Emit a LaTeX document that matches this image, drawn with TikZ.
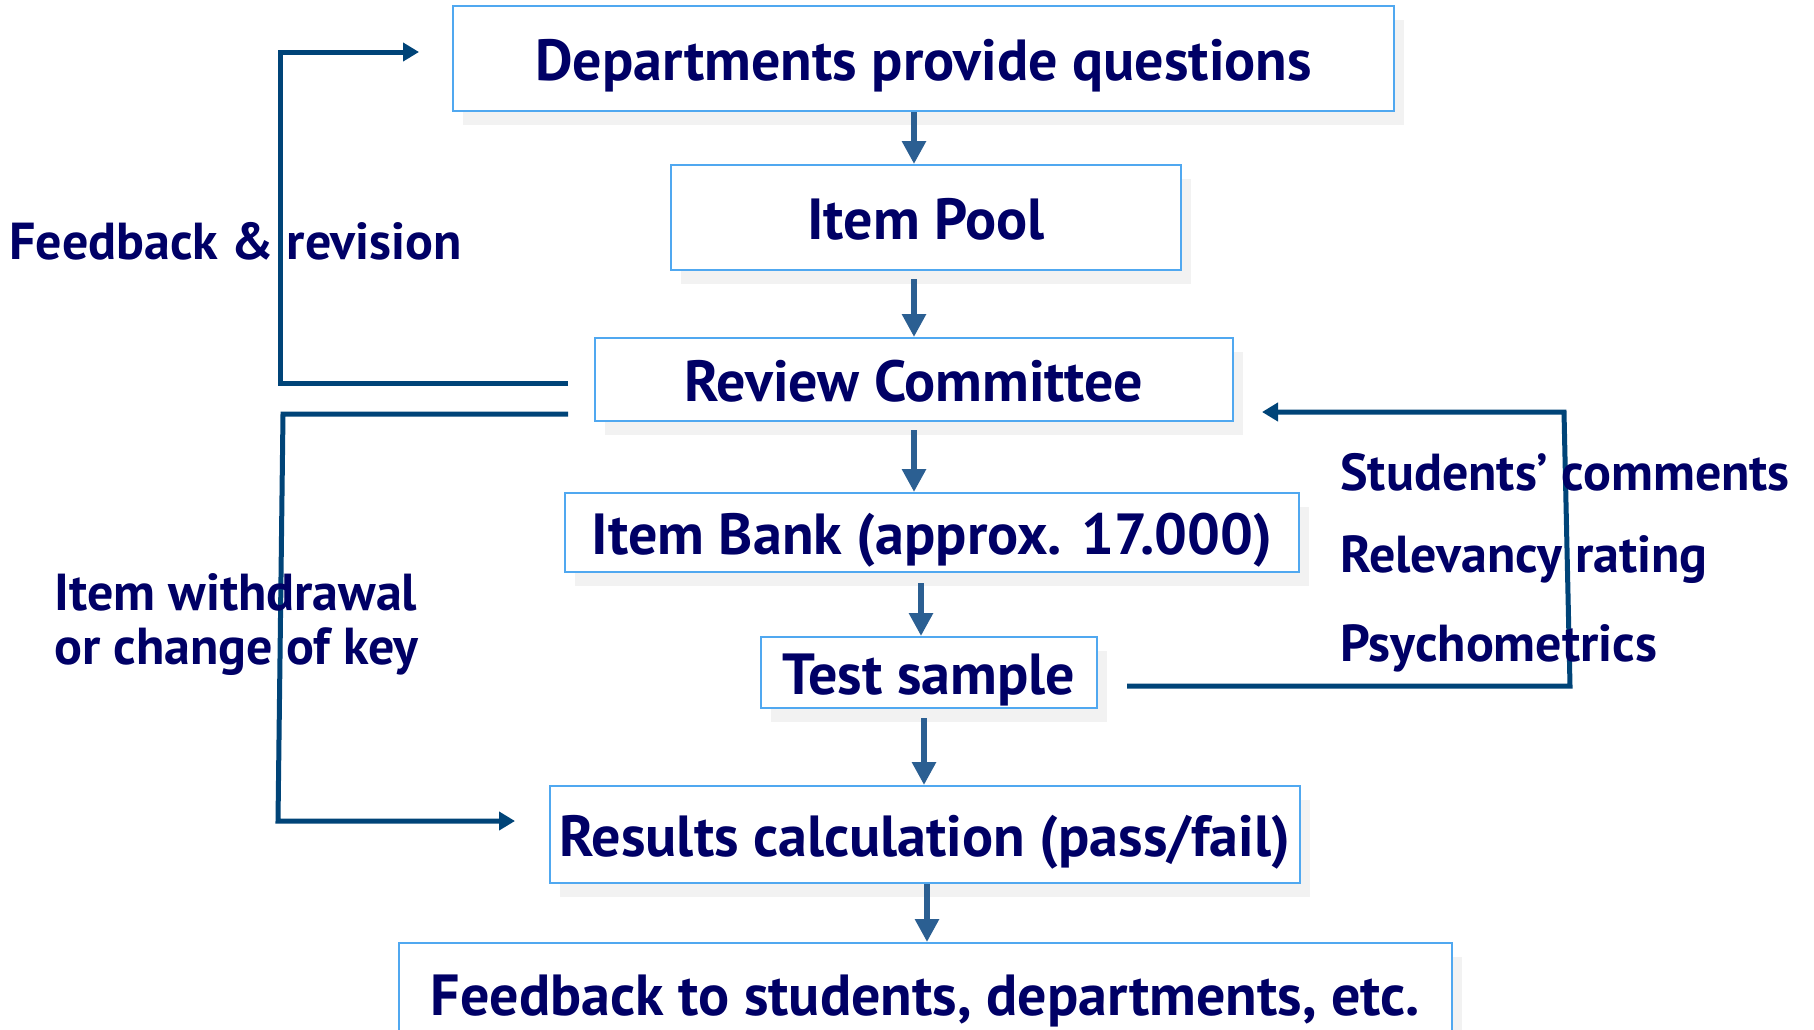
\documentclass[tikz,border=0pt]{standalone}
\usepackage{fontspec}
\setmainfont{PT Sans}
\usetikzlibrary{arrows.meta,calc,shadows}
\definecolor{txt}{RGB}{0,0,102}
\definecolor{bord}{RGB}{80,168,240}
\definecolor{arrc}{RGB}{43,95,146}
\definecolor{lpc}{RGB}{0,68,120}
\begin{document}
\begin{tikzpicture}[x=0.5pt,y=-0.5pt,
  box/.style={draw=bord, line width=1pt, fill=white, text=txt,
    font=\bfseries\fontsize{29}{33}\selectfont, inner sep=0pt,
    text height=23pt, text depth=1pt,
    drop shadow={shadow xshift=5pt, shadow yshift=-7pt, opacity=0.05, fill=black}},
  lbl/.style={text=txt, font=\bfseries\fontsize{26}{30}\selectfont, inner sep=0pt, anchor=west},
  flow/.style={draw=arrc, line width=3pt, -{Triangle[width=11.5pt,length=11.5pt]}},
  fbk/.style={draw=lpc, line width=2.5pt, -{Triangle[width=9pt,length=8pt]}}]
\useasboundingbox (0,0) rectangle (1814,1029);
\fill[white] (0,0) rectangle (1814,1029);

\node[box, minimum width=470.5pt, minimum height=52.5pt] (dep) at (923.5,58.5) {Departments provide questions};
\node[box, minimum width=255pt, minimum height=52.5pt] (pool) at (926,217.5) {Item Pool};
\node[box, minimum width=319pt, minimum height=41.5pt] (rev) at (914,379.5) {Review Committee};
\node[box, minimum width=367pt, minimum height=39.5pt] (bank) at (932,532.5) {Item Bank (approx. 17.000)};
\node[box, minimum width=168pt, minimum height=35.5pt] (test) at (929,672.5) {Test sample};
\node[box, minimum width=375pt, minimum height=48.5pt] (res) at (925,834.5) {Results calculation (pass/fail)};
\node[box, minimum width=526.5pt, minimum height=50pt] (fb) at (925.5,993) {Feedback to students, departments, etc.};

% vertical flow arrows
\draw[flow] ([xshift=-4.75pt]dep.south) -- ([xshift=-4.75pt]dep.south |- pool.north);
\draw[flow] ([xshift=-6pt,yshift=-4pt]pool.south) -- ([xshift=-6pt]pool.south |- rev.north);
\draw[flow] ([yshift=-4pt]rev.south) -- (rev.south |- bank.north);
\draw[flow] ([xshift=-5.5pt,yshift=-5pt]bank.south) -- ([xshift=-5.5pt]bank.south |- test.north);
\draw[flow] ([xshift=-2.5pt,yshift=-4.5pt]test.south) -- ([xshift=-2.5pt]test.south |- res.north);
\draw[flow] ([xshift=1pt]res.south) -- ([xshift=1pt]res.south |- fb.north);

% feedback & revision loop
\coordinate (a1) at ($(rev.west)+(-26,3.5)$);
\coordinate (a2) at ($(dep.west)+(-172,-6.5)$);
\coordinate (a3) at ($(dep.west)+(-33,-6.5)$);
\draw[fbk] (a1) -| (a2) -- (a3);
\node[lbl] (lfr) at (9,241) {Feedback \& revision};

% item withdrawal loop
\coordinate (b1) at ($(rev.west)+(-26,34.5)$);
\coordinate (b2) at (283,414);
\coordinate (b3) at (278,821);
\coordinate (b4) at ($(res.west)+(-34,-13.5)$);
\draw[fbk] (b1) -- (b2) -- (b3) -- (b4);
\node[lbl] (liw1) at (54,592) {Item withdrawal};
\node[lbl] (liw2) at (54,652) {or change of key};

% right loop
\coordinate (c1) at ($(test.east)+(29,13.5)$);
\coordinate (c2) at (1570,686);
\coordinate (c3) at (1564,412);
\coordinate (c4) at ($(rev.east)+(28,32.5)$);
\draw[fbk] (c1) -- (c2) -- (c3) -- (c4);
\node[lbl] (ls1) at (1340,472) {Students’ comments};
\node[lbl] (ls2) at (1340,560) {Relevancy rating};
\node[lbl] (ls3) at (1340,648) {Psychometrics};
\end{tikzpicture}
\end{document}
